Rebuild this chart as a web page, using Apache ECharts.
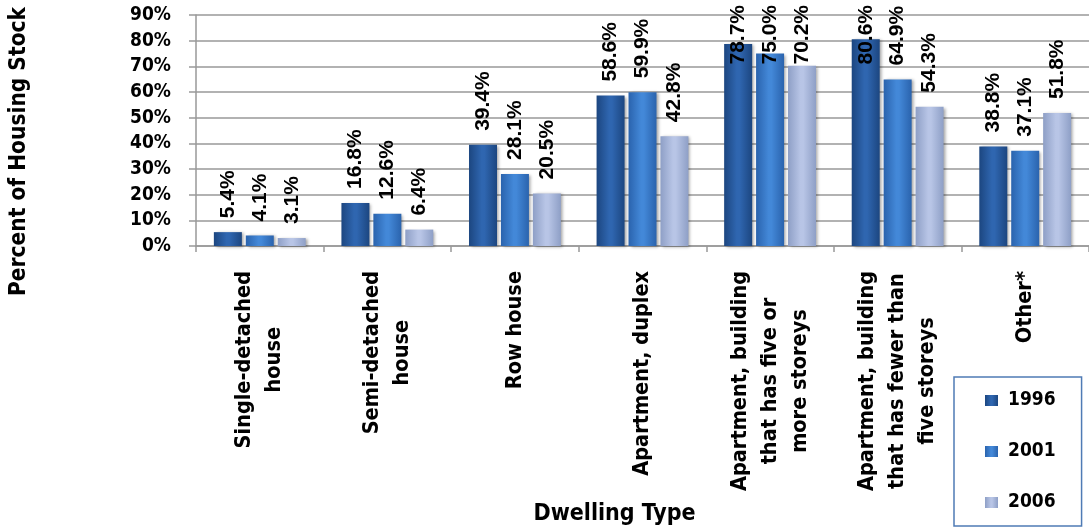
<!DOCTYPE html>
<html>
<head>
<meta charset="utf-8">
<title>Percent of Housing Stock by Dwelling Type</title>
<script src="https://cdn.jsdelivr.net/npm/echarts@6/dist/echarts.min.js"></script>
<style>
  html, body { margin: 0; padding: 0; background: #ffffff; }
  #chart { width: 1089px; height: 527px; }
</style>
</head>
<body>
<div id="chart"></div>
<script>
// Dwelling types (line breaks as shown under the axis)
const categories = [
  'Single-detached\nhouse',
  'Semi-detached\nhouse',
  'Row house',
  'Apartment, duplex',
  'Apartment, building\nthat has five or\nmore storeys',
  'Apartment, building\nthat has fewer than\nfive storeys',
  'Other*'
];

// Percent of housing stock per census year
const years = ['1996', '2001', '2006'];
const values1996 = [5.4, 16.8, 39.4, 58.6, 78.7, 80.6, 38.8];
const values2001 = [4.1, 12.6, 28.1, 59.9, 75.0, 64.9, 37.1];
const values2006 = [3.1, 6.4, 20.5, 42.8, 70.2, 54.3, 51.8];

// Y axis ticks (percent)
const yTicks = { min: 0, max: 90, interval: 10 };

const TITLE_FONT = "'DejaVu Sans Condensed', 'DejaVu Sans', sans-serif";
const LABEL_FONT = "'Liberation Sans', Arial, sans-serif";
const LABEL_SIZE = 21;
const LABEL_GAP = 14;   // gap between bar top and its value label
const TOP_LIMIT = 5;    // labels never run above this pixel row

// Bevel-like horizontal gradients for each series
function bevel(edge, mid) {
  return new echarts.graphic.LinearGradient(0, 0, 1, 0, [
    { offset: 0, color: edge },
    { offset: 0.45, color: mid },
    { offset: 0.55, color: mid },
    { offset: 1, color: edge }
  ]);
}
const seriesColors = [
  bevel('#1c4680', '#2f66b0'),
  bevel('#2a63ad', '#4388d8'),
  bevel('#8e9fc6', '#b8c5e6')
];
const seriesValues = [values1996, values2001, values2006];

const chart = echarts.init(document.getElementById('chart'), null, { renderer: 'canvas' });

const fmt = (v) => v.toFixed(1) + '%';

function makeSeries(name, data, idx) {
  return {
    name: name,
    type: 'bar',
    data: data,
    barWidth: 28,
    barGap: '14%',
    itemStyle: {
      color: seriesColors[idx],
      shadowColor: 'rgba(0,0,0,0.35)',
      shadowBlur: 3,
      shadowOffsetX: 2,
      shadowOffsetY: 1
    },
    label: {
      show: true,
      position: 'top',
      rotate: 90,
      align: 'left',
      verticalAlign: 'middle',
      distance: LABEL_GAP,
      fontFamily: LABEL_FONT,
      fontWeight: 'bold',
      fontSize: LABEL_SIZE,
      color: '#000',
      formatter: (p) => fmt(p.value)
    }
  };
}

const option = {
  backgroundColor: '#ffffff',
  animation: false,
  grid: { left: 193, top: 15, bottom: 280, right: -6, containLabel: false },
  legend: {
    data: years,
    orient: 'vertical',
    left: 954,
    top: 377,
    padding: [14, 26, 14, 31],
    itemGap: 32,
    itemWidth: 13,
    itemHeight: 11,
    icon: 'rect',
    borderColor: '#4f7bb5',
    borderWidth: 1.5,
    textStyle: { fontFamily: TITLE_FONT, fontWeight: 'bold', fontSize: 19, color: '#000', padding: [0, 0, 0, 5] }
  },
  xAxis: {
    type: 'category',
    data: categories,
    name: 'Dwelling Type',
    nameLocation: 'middle',
    nameGap: 257,
    nameTextStyle: {
      fontFamily: TITLE_FONT, fontWeight: 'bold', fontSize: 23, color: '#000',
      verticalAlign: 'top', padding: [0, 56, 0, 0]
    },
    axisLine: { lineStyle: { color: '#999', width: 1.5 } },
    axisTick: { show: true, length: 6, lineStyle: { color: '#999', width: 1.5 } },
    axisLabel: {
      interval: 0,
      rotate: 90,
      margin: 25,
      color: '#000',
      formatter: (v) => v.split('\n').map(s => '{c|' + s + '}').join('\n'),
      rich: {
        c: { align: 'center', fontFamily: TITLE_FONT, fontWeight: 'bold', fontSize: 21.5, lineHeight: 30, color: '#000' }
      }
    }
  },
  yAxis: {
    type: 'value',
    min: yTicks.min,
    max: yTicks.max,
    interval: yTicks.interval,
    name: 'Percent of Housing Stock',
    nameLocation: 'middle',
    nameGap: 165,
    nameRotate: 90,
    nameTextStyle: {
      fontFamily: TITLE_FONT, fontWeight: 'bold', fontSize: 22.5, color: '#000',
      padding: [0, 42, 0, 0]
    },
    axisLine: { show: true, lineStyle: { color: '#999', width: 1.5 } },
    axisTick: { show: true, length: 7, lineStyle: { color: '#999', width: 1.5 } },
    axisLabel: {
      margin: 25,
      formatter: '{value}%',
      fontFamily: TITLE_FONT, fontWeight: 'bold', fontSize: 19, color: '#000'
    },
    splitLine: { show: true, lineStyle: { color: '#999', width: 1.5 } }
  },
  series: years.map((y, i) => makeSeries(y, seriesValues[i], i))
};

chart.setOption(option);

// Labels that would run past the top of the chart are moved down so they stay visible.
// The offset is given in the label's own (rotated) frame: negative x moves it down the page.
const measureCtx = document.createElement('canvas').getContext('2d');
measureCtx.font = 'bold ' + LABEL_SIZE + 'px ' + LABEL_FONT;
const adjusted = seriesValues.map((vals) => ({
  data: vals.map((v, ci) => {
    const barTop = chart.convertToPixel({ gridIndex: 0 }, [ci, v])[1];
    const len = measureCtx.measureText(fmt(v)).width;
    const labelStart = barTop - LABEL_GAP;
    const push = Math.max(0, TOP_LIMIT + len - labelStart);
    return push > 0 ? { value: v, label: { offset: [-push, 0] } } : v;
  })
}));
chart.setOption({ series: adjusted });
</script>
</body>
</html>
